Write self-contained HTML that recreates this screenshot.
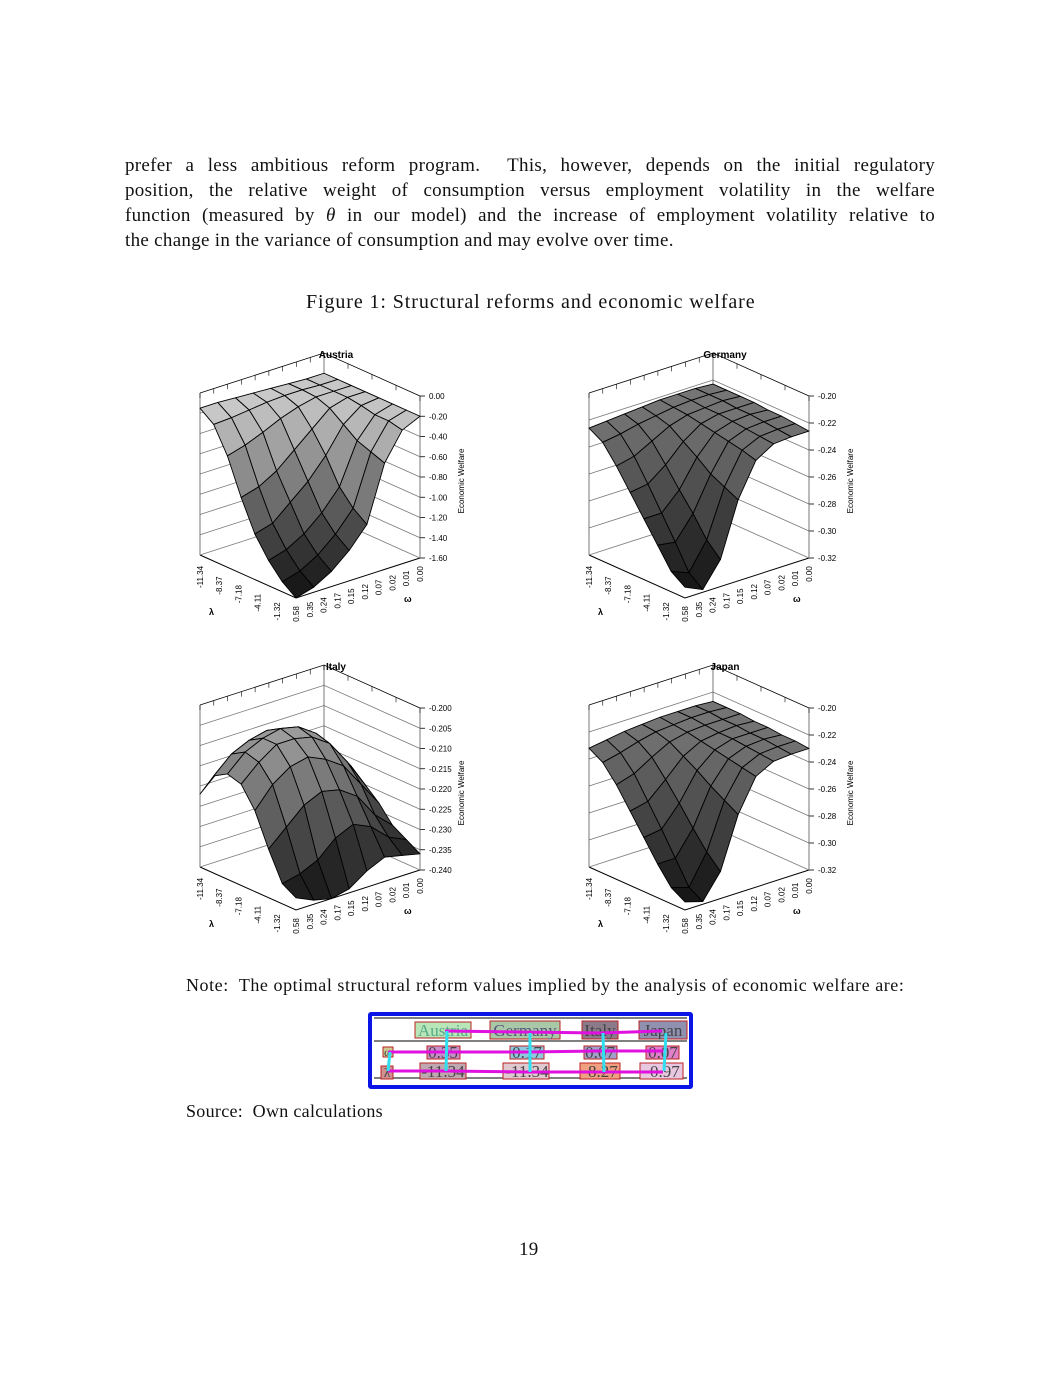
<!DOCTYPE html>
<html><head><meta charset="utf-8">
<style>
body{margin:0;background:#fff;}
#page{position:relative;width:1061px;height:1373px;background:#fff;font-family:"Liberation Serif",serif;color:#111;overflow:hidden;}
.ln{position:absolute;left:125px;width:810px;font-size:19px;letter-spacing:0.3px;line-height:20px;text-align:justify;text-align-last:justify;white-space:nowrap;}
.txt{position:absolute;font-size:18px;letter-spacing:0.3px;white-space:nowrap;}
#charts text{font-family:"Liberation Sans",sans-serif;}
</style></head><body>
<div id="page">
<div class="ln" style="top:156px">prefer a less ambitious reform program. &nbsp;This, however, depends on the initial regulatory</div>
<div class="ln" style="top:181px">position, the relative weight of consumption versus employment volatility in the welfare</div>
<div class="ln" style="top:206px">function (measured by <i>θ</i> in our model) and the increase of employment volatility relative to</div>
<div class="ln" style="top:231px;width:auto;text-align-last:left">the change in the variance of consumption and may evolve over time.</div>
<div class="txt" style="left:306px;top:291px;font-size:20px;letter-spacing:0.9px">Figure 1: Structural reforms and economic welfare</div>

<svg id="charts" width="1061" height="1373" style="position:absolute;left:0;top:0"></svg>

<div class="txt" style="left:186px;top:975px;letter-spacing:0.55px">Note: &nbsp;The optimal structural reform values implied by the analysis of economic welfare are:</div>

<div style="position:absolute;left:368px;top:1012px;width:317px;height:69px;border:4px solid #0a14e6;border-radius:3px">
<svg width="317" height="69" style="position:absolute;left:0;top:0">
<line x1="2" y1="2" x2="315" y2="2" stroke="#000" stroke-width="1"/>
<line x1="2" y1="25" x2="315" y2="25" stroke="#000" stroke-width="1"/>
<line x1="2" y1="62" x2="315" y2="62" stroke="#000" stroke-width="1"/>
<g font-family="Liberation Serif" font-size="17" fill="#444">
<rect x="43" y="6" width="56" height="16" fill="#b8e6b8" stroke="#b22" /><text x="71" y="20" text-anchor="middle" fill="#5a8">Austria</text>
<rect x="118" y="5" width="70" height="18" fill="#a8c8a8" stroke="#b22"/><text x="153" y="20" text-anchor="middle" fill="#557">Germany</text>
<rect x="210" y="5" width="36" height="18" fill="#8a7a8a" stroke="#b22"/><text x="228" y="20" text-anchor="middle">Italy</text>
<rect x="267" y="5" width="48" height="18" fill="#9090b0" stroke="#b22"/><text x="291" y="20" text-anchor="middle">Japan</text>
<rect x="11" y="31" width="10" height="10" fill="#c8c890" stroke="#b22"/><text x="16" y="40" text-anchor="middle" font-size="12">ω</text>
<rect x="55" y="30" width="33" height="13" fill="#c890c8" stroke="#b22"/><text x="71" y="42" text-anchor="middle">0.35</text>
<rect x="138" y="30" width="34" height="13" fill="#90c8e0" stroke="#b22"/><text x="155" y="42" text-anchor="middle">0.17</text>
<rect x="212" y="30" width="33" height="13" fill="#a0a0c8" stroke="#b22"/><text x="228" y="42" text-anchor="middle">0.07</text>
<rect x="274" y="30" width="33" height="13" fill="#e080c8" stroke="#b22"/><text x="291" y="42" text-anchor="middle">0.07</text>
<rect x="9" y="50" width="12" height="13" fill="#d09090" stroke="#b22"/><text x="15" y="61" text-anchor="middle" font-size="13">λ</text>
<rect x="48" y="47" width="46" height="16" fill="#c0a8b0" stroke="#b22"/><text x="71" y="61" text-anchor="middle">-11.34</text>
<rect x="131" y="47" width="46" height="16" fill="#e0c8d0" stroke="#b22"/><text x="155" y="61" text-anchor="middle">-11.34</text>
<rect x="208" y="47" width="40" height="16" fill="#f0a080" stroke="#b22"/><text x="228" y="61" text-anchor="middle">-8.27</text>
<rect x="268" y="47" width="43" height="16" fill="#e8c8e0" stroke="#b22"/><text x="290" y="61" text-anchor="middle">-0.97</text>
</g>
<polyline points="73,15 150,16 228,17 290,15" fill="none" stroke="#e010e0" stroke-width="3"/>
<polyline points="16,36 71,36 155,36 228,35 291,35" fill="none" stroke="#e010e0" stroke-width="3"/>
<polyline points="16,55 71,55 155,56 228,56 291,56" fill="none" stroke="#e010e0" stroke-width="3"/>
<g stroke="#30e0f0" stroke-width="3" fill="none">
<polyline points="75,15 74,55"/><polyline points="158,17 158,56"/><polyline points="231,17 232,56"/><polyline points="294,17 292,55"/><polyline points="18,36 16,55"/>
</g>
</svg>
</div>

<div class="txt" style="left:186px;top:1101px">Source: &nbsp;Own calculations</div>
<div class="txt" style="left:519px;top:1239px;font-size:19px">19</div>
</div>

<script>
// ---- data ----
const chartTitles = ["Austria","Germany","Italy","Japan"];
const lambdaTicks = ["-11.34","-8.37","-7.18","-4.11","-1.32"];
const omegaTicks = ["0.58","0.35","0.24","0.17","0.15","0.12","0.07","0.02","0.01","0.00"];
const austriaZ = [
[-0.15,-0.15,-0.16,-0.17,-0.18,-0.19,-0.2,-0.2],
[-0.25,-0.24,-0.22,-0.2,-0.19,-0.19,-0.2,-0.2],
[-0.5,-0.45,-0.38,-0.3,-0.24,-0.2,-0.2,-0.2],
[-0.85,-0.8,-0.7,-0.55,-0.4,-0.25,-0.2,-0.2],
[-1.15,-1.1,-0.95,-0.8,-0.6,-0.35,-0.22,-0.2],
[-1.35,-1.3,-1.2,-1.05,-0.85,-0.45,-0.25,-0.2],
[-1.5,-1.45,-1.35,-1.2,-1.0,-0.5,-0.25,-0.2],
[-1.6,-1.55,-1.45,-1.3,-1.1,-0.55,-0.28,-0.2]];
const germanyZ = [
[-0.226,-0.225,-0.224,-0.223,-0.222,-0.222,-0.222,-0.223],
[-0.232,-0.23,-0.227,-0.225,-0.223,-0.222,-0.222,-0.223],
[-0.245,-0.242,-0.235,-0.228,-0.224,-0.223,-0.222,-0.223],
[-0.26,-0.258,-0.248,-0.235,-0.226,-0.223,-0.223,-0.223],
[-0.275,-0.275,-0.262,-0.242,-0.228,-0.224,-0.223,-0.224],
[-0.29,-0.292,-0.275,-0.25,-0.23,-0.225,-0.224,-0.224],
[-0.305,-0.31,-0.29,-0.255,-0.232,-0.226,-0.225,-0.225],
[-0.312,-0.318,-0.3,-0.26,-0.235,-0.227,-0.226,-0.226]];
const italyZ = [
[-0.222,-0.218,-0.215,-0.214,-0.215,-0.217,-0.221,-0.224],
[-0.216,-0.212,-0.21,-0.209,-0.21,-0.212,-0.217,-0.222],
[-0.214,-0.21,-0.208,-0.207,-0.208,-0.211,-0.216,-0.222],
[-0.215,-0.211,-0.208,-0.208,-0.209,-0.212,-0.218,-0.225],
[-0.22,-0.215,-0.212,-0.211,-0.213,-0.216,-0.222,-0.228],
[-0.228,-0.224,-0.22,-0.218,-0.219,-0.222,-0.228,-0.232],
[-0.235,-0.234,-0.232,-0.228,-0.226,-0.228,-0.232,-0.234],
[-0.237,-0.239,-0.24,-0.239,-0.236,-0.234,-0.235,-0.236]];
const japanZ = [
[-0.232,-0.23,-0.228,-0.227,-0.226,-0.226,-0.226,-0.227],
[-0.238,-0.235,-0.231,-0.228,-0.227,-0.226,-0.226,-0.227],
[-0.25,-0.246,-0.238,-0.231,-0.228,-0.227,-0.227,-0.227],
[-0.265,-0.262,-0.25,-0.237,-0.23,-0.228,-0.227,-0.228],
[-0.28,-0.278,-0.263,-0.243,-0.232,-0.228,-0.228,-0.228],
[-0.295,-0.295,-0.277,-0.25,-0.234,-0.229,-0.228,-0.229],
[-0.308,-0.312,-0.29,-0.256,-0.236,-0.23,-0.229,-0.229],
[-0.314,-0.318,-0.3,-0.262,-0.238,-0.231,-0.23,-0.23]];
const austriaTicks = ["0.00","-0.20","-0.40","-0.60","-0.80","-1.00","-1.20","-1.40","-1.60"];
const germanyTicks = ["-0.20","-0.22","-0.24","-0.26","-0.28","-0.30","-0.32"];
const italyTicks = ["-0.200","-0.205","-0.210","-0.215","-0.220","-0.225","-0.230","-0.235","-0.240"];
const japanTicks = ["-0.20","-0.22","-0.24","-0.26","-0.28","-0.30","-0.32"];

const NS="http://www.w3.org/2000/svg";
const svg=document.getElementById('charts');
function mk(tag,attrs,parent){const e=document.createElementNS(NS,tag);for(const k in attrs)e.setAttribute(k,attrs[k]);(parent||svg).appendChild(e);return e;}

function drawChart(ox,oy,title,Z,ticks,hiGray,key){
  const g=mk('g',{transform:'translate('+ox+','+oy+')'});
  
  
  const L=[200,555],F=[296,598],R=[420,558],H=162;
  const zmax=parseFloat(ticks[0]),zmin=parseFloat(ticks[ticks.length-1]);
  function floor(a,b){return [L[0]+a*(F[0]-L[0])+b*(R[0]-F[0]),L[1]+a*(F[1]-L[1])+b*(R[1]-F[1])];}
  function proj(a,b,z){const p=floor(a,b);return [p[0],p[1]-(z-zmin)/(zmax-zmin)*H];}
  const B=floor(0,1);
  const t=mk('text',{x:336,y:358,'text-anchor':'middle','font-size':10,'font-weight':'bold',fill:'#000'},g);t.textContent=title;
  
  
  ticks.forEach((tk,i)=>{
    const z=parseFloat(tk);
    const p1=proj(0,0,z),p2=proj(0,1,z),p3=proj(1,1,z);
    mk('polyline',{points:p1+' '+p2+' '+p3,fill:'none',stroke:i==0?'#000':'#777','stroke-width':0.8},g);
    mk('line',{x1:p3[0],y1:p3[1],x2:p3[0]+5,y2:p3[1],stroke:'#000','stroke-width':0.8},g);
    const lb=mk('text',{x:p3[0]+9,y:p3[1]+3,'font-size':8,fill:'#000'},g);lb.textContent=tk;
    
    
  });
  [[0,0],[0,1],[1,1]].forEach(c=>{const a=proj(c[0],c[1],zmin),b=proj(c[0],c[1],zmax);mk('line',{x1:a[0],y1:a[1],x2:b[0],y2:b[1],stroke:'#555','stroke-width':0.8},g);});
  for(let i=0;i<=9;i++){const p=proj(0,i/9,zmax);mk('line',{x1:p[0],y1:p[1],x2:p[0],y2:p[1]+5,stroke:'#000','stroke-width':0.6},g);}
  for(let i=0;i<=4;i++){const p=proj(i/4,1,zmax);mk('line',{x1:p[0],y1:p[1],x2:p[0],y2:p[1]+5,stroke:'#000','stroke-width':0.6},g);}
  mk('polyline',{points:L+' '+F+' '+R,fill:'none',stroke:'#000','stroke-width':1},g);
  mk('polyline',{points:L+' '+B+' '+R,fill:'none',stroke:'#888','stroke-width':0.6},g);
  const n=Z.length,m=Z[0].length,quads=[];
  for(let i=0;i<n-1;i++)for(let j=0;j<m-1;j++){
    const a0=i/(n-1),a1=(i+1)/(n-1),b0=j/(m-1),b1=(j+1)/(m-1);
    const zs=[Z[i][j],Z[i+1][j],Z[i+1][j+1],Z[i][j+1]];
    const pts=[proj(a0,b0,zs[0]),proj(a1,b0,zs[1]),proj(a1,b1,zs[2]),proj(a0,b1,zs[3])];
    const zm=(zs[0]+zs[1]+zs[2]+zs[3])/4;
    quads.push({d:(a0+a1)/2-(b0+b1)/2,pts,zm});
  }
  quads.sort((p,q)=>p.d-q.d);
  quads.forEach(q=>{
    const tt=(q.zm-zmin)/(zmax-zmin);const gv=Math.round(15+Math.max(0,Math.min(1,tt))*(hiGray-15));
    const p=mk('polygon',{points:q.pts.map(x=>x.join(',')).join(' '),fill:'rgb('+gv+','+gv+','+gv+')',stroke:'#000','stroke-width':0.9,'stroke-linejoin':'round'},g);
    
    
  });
  lambdaTicks.forEach((tk,i)=>{const p=floor(i/4*0.8,0);
    const lb=mk('text',{transform:'translate('+(p[0]+3)+','+(p[1]+22)+') rotate(-90)','font-size':8,'font-family':'Liberation Serif',fill:'#000','text-anchor':'middle'},g);lb.textContent=tk;
    
    });
  omegaTicks.forEach((tk,i)=>{const p=floor(1,i/9);
    const lb=mk('text',{transform:'translate('+(p[0]+3)+','+(p[1]+16)+') rotate(-90)','font-size':8,'font-family':'Liberation Serif',fill:'#000','text-anchor':'middle'},g);lb.textContent=tk;
    
    });
  const la=mk('text',{x:209,y:615,'font-size':9,'font-weight':'bold',fill:'#000'},g);la.textContent='λ';
  
  
  const oa=mk('text',{x:404,y:602,'font-size':9,'font-weight':'bold',fill:'#000'},g);oa.textContent='ω';
  
  
  const yt=mk('text',{transform:'translate(464,481) rotate(-90)','font-size':8,'font-family':'Liberation Serif',fill:'#000','text-anchor':'middle'},g);yt.textContent='Economic Welfare';
  
  
}
drawChart(0,0,chartTitles[0],austriaZ,austriaTicks,225,'austria');
drawChart(389,0,chartTitles[1],germanyZ,germanyTicks,140,'germany');
drawChart(0,312,chartTitles[2],italyZ,italyTicks,190,'italy');
drawChart(389,312,chartTitles[3],japanZ,japanTicks,145,'japan');
</script>
</body></html>
